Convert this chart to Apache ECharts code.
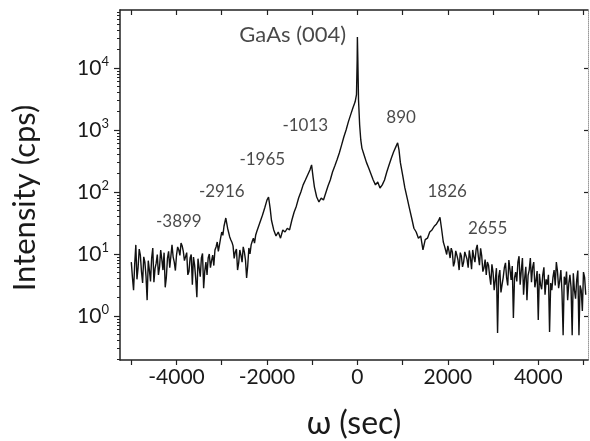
<!DOCTYPE html>
<html><head><meta charset="utf-8">
<script src="https://cdn.jsdelivr.net/npm/echarts@6/dist/echarts.min.js"></script>
<style>html,body{margin:0;padding:0;background:#fff}#c{width:590px;height:441px}</style>
</head><body><div id="c"></div>
<script>
// omega (arcsec) and intensity (cps)
const omega = [
 -5000,-4950,-4900,-4850,-4800,-4750,-4700,-4650,-4600,-4550,
 -4500,-4450,-4400,-4350,-4300,-4250,-4200,-4150,-4100,-4050,
 -4000,-3950,-3900,-3850,-3800,-3750,-3700,-3650,-3600,-3550,
 -3500,-3450,-3400,-3350,-3300,-3250,-3200,-3150,-3100,-3050,
 -3000,-2950,-2910,-2870,-2850,-2800,-2750,-2700,-2650,-2600,
 -2550,-2500,-2450,-2400,-2350,-2300,-2250,-2200,-2150,-2100,
 -2050,-2000,-1965,-1930,-1900,-1850,-1800,-1750,-1700,-1650,
 -1600,-1550,-1500,-1450,-1400,-1350,-1300,-1250,-1200,-1150,
 -1100,-1050,-1013,-980,-950,-900,-850,-800,-750,-700,
 -650,-600,-550,-500,-450,-400,-350,-300,-250,-200,
 -150,-100,-50,-20,-5,0,10,25,50,75,
 100,150,200,250,300,350,400,450,500,550,
 600,650,700,750,800,850,890,920,950,1000,
 1050,1100,1150,1200,1250,1300,1350,1400,1450,1500,
 1550,1600,1650,1700,1750,1800,1826,1860,1900,1950,
 2000,2050,2100,2150,2200,2250,2300,2350,2400,2450,
 2500,2550,2600,2650,2700,2750,2800,2850,2900,2950,
 3000,3050,3100,3150,3200,3250,3300,3350,3400,3450,
 3500,3550,3600,3650,3700,3750,3800,3850,3900,3950,
 4000,4050,4100,4150,4200,4250,4300,4350,4400,4450,
 4500,4550,4600,4650,4700,4750,4800,4850,4900,4950,
 5000,5050
];
const intensity = [
 7.4,2.6,14,6,9.6,3.4,7.4,1.8,5.5,8.6,
 3.5,7.1,4.6,11.6,5.5,2.9,8.6,6,14,7.4,
 9.6,11.6,15,11,8,4.6,8.6,3.2,6.6,2,
 6,8.6,2.8,7.4,8.6,6,9.6,11.6,15.6,14,
 22.6,28,38,26,22.6,17,13.5,10.8,5.5,11.6,
 7.4,10.8,4.1,12.5,14,18,20,26,33,42,
 55,74,83,55,35,24.4,19.5,22.6,18,24.4,
 22.6,26,24.4,35,47,59,80,100,130,156,
 188,226,273,174,120,83,69,80,74,96,
 125,156,210,262,330,426,570,770,1000,1350,
 1750,2260,2840,3700,13500,31600,13500,3040,1200,690,
 510,390,300,243,195,156,130,145,116,130,
 156,210,273,350,440,534,620,478,300,188,
 116,80,55,38,26,22.6,18,19.5,11.6,17,
 18,22.6,24.4,28,30.5,35,39,26,15.6,11.6,
 13.5,8.6,10.8,7.4,9.6,5.5,9.2,7.4,11.6,6,
 8.6,11.6,7.4,14,6.6,9.2,6,4.6,6.6,3.2,
 5.1,3.8,0.53,5.5,3.2,6,4.1,8,3.8,0.93,
 5.1,7.4,3.2,8.6,4.1,1.8,5.5,3.5,7.4,3.8,
 0.86,3.2,4.6,2.2,3.2,0.55,2.6,5.5,7.4,2.8,
 5.5,0.49,3.2,1.8,4.6,0.49,2.6,3.8,0.49,2.6,
 5.1,2.2
];
// additional readings in the noisy parts of the scan
const omegaExtra = [
 -4975,-4925,-4875,-4825,-4775,-4725,-4675,-4625,-4575,-4525,
 -4475,-4425,-4375,-4325,-4275,-4225,-4175,-4125,-4075,-4025,
 -3975,-3925,-3875,-3825,-3775,-3725,-3675,-3625,-3575,-3525,
 -3475,-3425,-3375,-3325,-3275,-3225,-3175,-3125,-3075,-3025,
 -2975,-2825,-2775,-2725,-2675,-2625,-2575,-2525,-2475,-2425,
 -2375,-2325,-2275,-2225,
 1925,1975,2025,2075,2125,2175,2225,2275,2325,2375,
 2425,2475,2525,2575,2625,2675,2725,2775,2825,2875,
 2925,2975,3025,3075,3125,3175,3225,3275,3325,3375,
 3425,3475,3525,3575,3625,3675,3725,3775,3825,3875,
 3925,3975,4025,4075,4125,4175,4225,4275,4325,4375,
 4425,4475,4525,4575,4625,4675,4725,4775,4825,4875,
 4925,4975,5025
];
const intensityExtra = [
 4.2,6.8,3.9,12,5.2,9,4.4,7.8,3.6,12.5,
 5.8,9.8,6.2,8.2,10.5,4.2,11,5.6,9,5.4,
 13,9.5,13.5,7.8,10.5,5.2,9.8,8.9,4,8.4,
 4.3,10.2,5.3,4.6,10,7.8,6.5,13,11,18,
 20,19,15.5,8.5,12,7.2,9.5,13,8,6.5,
 10,16,15,23,
 13.5,9.8,11.2,12.4,6.3,11.2,8,10.5,6.2,10.8,
 8.2,11.4,5.7,9,11.8,9.1,12.3,5.2,8.1,7.4,
 4.4,6.8,2.6,5.9,4.3,2.4,4.2,7.2,3.1,5.6,
 6.4,4.1,3.6,9.2,5.4,2.2,6.2,4.5,8.6,6.1,
 2.9,5.3,4.8,2.7,6.1,3.9,4.6,3.4,4.2,3.1,
 5.3,3.7,2.4,4.3,5.2,3.3,2.9,4.9,1.9,5.4,
 3.1,1.2,4.2
];
// peak annotations: text and anchor (data coords)
const annoText = ['GaAs (004)','-1013','890','-1965','-2916','-3899','1826','2655'];
const annoX    = [-1430,-1153,968,-2104,-2999,-3949,1985,2880];
const annoY    = [34000,1200,1560,330,100,33,100,26];
// axis ticks
const xLabelTicks = [-4000,-2000,0,2000,4000];
const xAllTicks = [-5000,-4000,-3000,-2000,-1000,0,1000,2000,3000,4000,5000];
const yMajor = [1,10,100,1000,10000];
const yMinor = [0.2,0.3,0.4,0.5,0.6,0.7,0.8,0.9,2,3,4,5,6,7,8,9,20,30,40,50,60,70,80,90,
  200,300,400,500,600,700,800,900,2000,3000,4000,5000,6000,7000,8000,9000,20000,30000,40000,50000,60000,70000,80000];

const scan = omega.map((w,i)=>[w,intensity[i]])
  .concat(omegaExtra.map((w,i)=>[w,intensityExtra[i]]))
  .sort((a,b)=>a[0]-b[0]);

const FONT = 'Lato, "Open Sans", sans-serif';
const TXT = '#1a1a1a';
const X_MIN = -5250, X_MAX = 5100, Y_MIN = 0.195, Y_MAX = 86000;
const chart = echarts.init(document.getElementById('c'));
const baseY = {type:'log', min:Y_MIN, max:Y_MAX, splitLine:{show:false}};
chart.setOption({
  animation:false,
  textStyle:{fontFamily:FONT},
  grid:{left:120,right:2,top:10,bottom:81,containLabel:false,outerBoundsMode:'none'},
  xAxis:[
    {type:'value',position:'bottom',min:X_MIN,max:X_MAX,
     axisLine:{onZero:false,lineStyle:{color:'#222',width:1.5}},
     axisTick:{customValues:xAllTicks,length:5,inside:false,lineStyle:{color:'#222',width:1.2}},
     axisLabel:{customValues:xLabelTicks,fontSize:21,color:TXT,fontFamily:FONT,margin:7,
       formatter:v=>String(v)},
     splitLine:{show:false},
     name:'ω (sec)',nameLocation:'middle',nameGap:48,
     nameTextStyle:{fontSize:32,color:TXT,fontFamily:FONT}},
    {type:'value',position:'top',min:X_MIN,max:X_MAX,
     axisLine:{onZero:false,lineStyle:{color:'#222',width:1.5}},
     axisTick:{customValues:xAllTicks,length:5,inside:true,lineStyle:{color:'#222',width:1.2}},
     axisLabel:{show:false},splitLine:{show:false}}
  ],
  yAxis:[
    Object.assign({},baseY,{position:'left',
     axisLine:{show:true,onZero:false,lineStyle:{color:'#222',width:1.5}},
     axisTick:{show:true,customValues:yMajor,length:6,inside:false,lineStyle:{color:'#222',width:1.2}},
     axisLabel:{customValues:yMajor,margin:11,color:TXT,
       formatter:function(v){return '{b|10}{s|'+Math.round(Math.log10(v))+'}';},
       rich:{b:{fontSize:21,fontFamily:FONT,color:TXT,lineHeight:26},
             s:{fontSize:13,fontFamily:FONT,color:TXT,verticalAlign:'top',lineHeight:26}}},
     name:'Intensity (cps)',nameLocation:'middle',nameGap:80,
     nameTextStyle:{fontSize:31,color:TXT,fontFamily:FONT,padding:[0,26,0,0]}}),
    Object.assign({},baseY,{position:'left',
     axisLine:{show:false,onZero:false},
     axisTick:{show:true,customValues:yMinor,length:3,inside:false,lineStyle:{color:'#222',width:1}},
     axisLabel:{show:false}}),
    Object.assign({},baseY,{position:'right',
     axisLine:{show:true,onZero:false,lineStyle:{color:'#999',width:1,type:'dotted'}},
     axisTick:{show:true,customValues:yMajor,length:4,inside:true,lineStyle:{color:'#222',width:1.2}},
     axisLabel:{show:false}})
  ],
  series:[
    {type:'line',xAxisIndex:0,yAxisIndex:0,showSymbol:false,
     data:scan,
     lineStyle:{color:'#111',width:1.4},silent:true},
    {type:'scatter',xAxisIndex:0,yAxisIndex:0,symbolSize:0,silent:true,
     data:annoX.map((x,i)=>({value:[x,annoY[i]],name:annoText[i],
       label:i===0?{fontSize:22}:undefined})),
     label:{show:true,position:'inside',formatter:p=>p.name,color:TXT,fontFamily:FONT,fontSize:17}
    }
  ]
});
</script></body></html>
